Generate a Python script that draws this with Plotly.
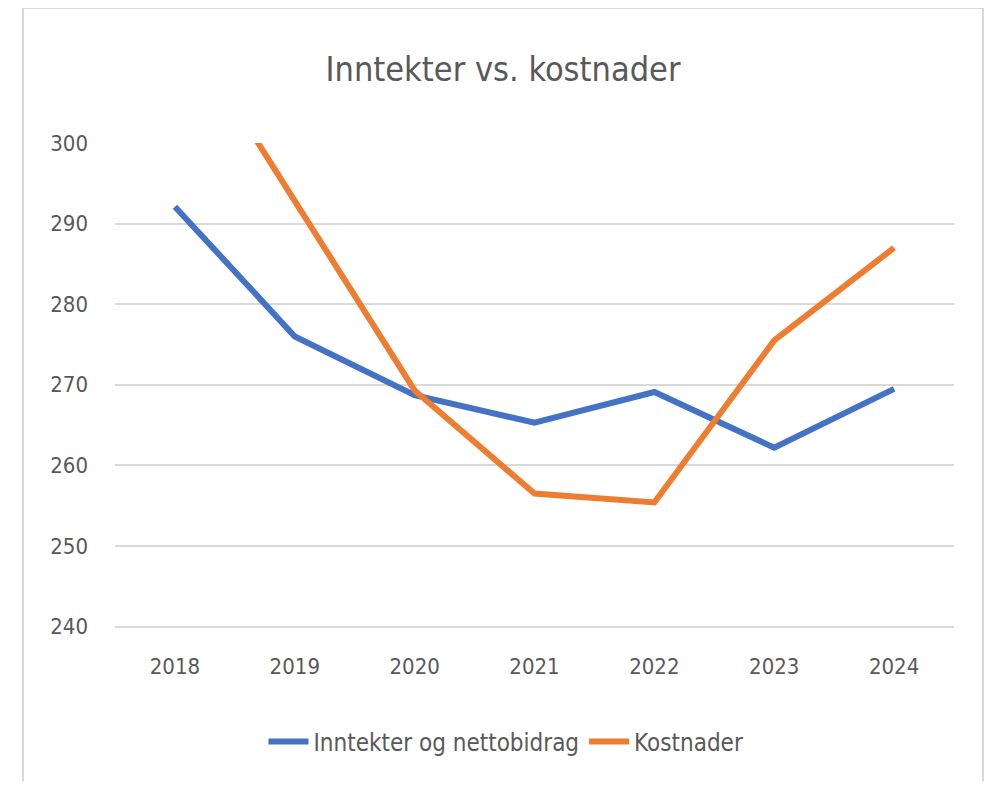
import plotly.graph_objects as go

years = ["2018", "2019", "2020", "2021", "2022", "2023", "2024"]
inntekter = [292.1, 276.0, 268.7, 265.3, 269.1, 262.2, 269.5]
kostnader = [316.3, 292.7, 269.3, 256.5, 255.4, 275.5, 287.0]
y_ticks = [240, 250, 260, 270, 280, 290, 300]
Y_MIN, Y_MAX = 239.7, 300

FONT = "DejaVu Sans Condensed, Roboto, sans-serif"
TXT = "#595959"

OFF = 8  # page body margin
W, H = 995 - OFF, 781 - OFF
# plot area in screen pixels
PL, PR, PT, PB = 115, 954, 143, 629
L = PL - OFF
R = W - (PR - OFF)
T = PT - OFF
B = H - (PB - OFF)
pw = PR - PL
ph = PB - PT

fig = go.Figure()
fig.add_trace(go.Scatter(x=years, y=inntekter, mode="lines", name="Inntekter og nettobidrag",
                         line=dict(color="#4472C4", width=6)))
fig.add_trace(go.Scatter(x=years, y=kostnader, mode="lines", name="Kostnader",
                         line=dict(color="#ED7D31", width=6)))


def px_x(p):
    return (p - PL) / pw


def px_y(p):
    return (PB - p) / ph


fig.update_layout(
    width=W, height=H,
    margin=dict(l=L, r=R, t=T, b=B, autoexpand=False),
    paper_bgcolor="white", plot_bgcolor="white",
    font=dict(family=FONT, color=TXT, size=22),
    title=dict(text="Inntekter vs. kostnader", x=(503 - OFF) / W, y=1 - (69 - OFF) / H,
               xanchor="center", yanchor="middle",
               font=dict(family=FONT, size=34, color=TXT)),
    xaxis=dict(range=[-0.5, 6.5], showgrid=False, showline=False, zeroline=False, ticks="",
               ticklabelstandoff=22, tickfont=dict(size=22, color=TXT)),
    yaxis=dict(range=[Y_MIN, Y_MAX], tickvals=y_ticks, showgrid=True, gridcolor="#d9d9d9",
               gridwidth=2, zeroline=False, showline=False, ticks="",
               ticklabelstandoff=26, tickfont=dict(size=22, color=TXT)),
    legend=dict(orientation="h", x=px_x(506), y=px_y(742), xanchor="center", yanchor="middle",
                font=dict(size=24, color=TXT), itemwidth=40, tracegroupgap=0,
                bgcolor="rgba(0,0,0,0)"),
    showlegend=True,
    shapes=[dict(type="rect", xref="paper", yref="paper",
                 x0=px_x(23), x1=px_x(983), y0=px_y(830), y1=px_y(8),
                 line=dict(color="#d9d9d9", width=2), layer="below")],
)

fig.write_html("out.html")
